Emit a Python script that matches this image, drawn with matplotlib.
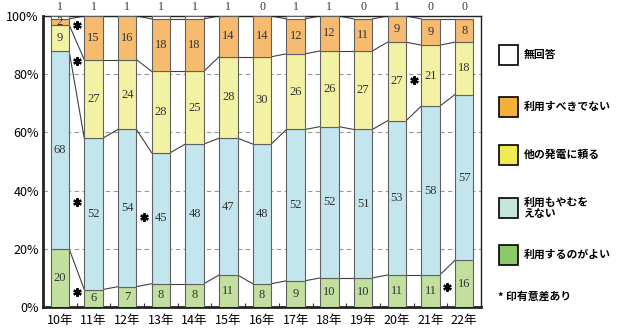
import numpy as np
import matplotlib.pyplot as plt
from matplotlib.patches import Rectangle

# survey years and answer shares (%), bottom to top of each bar
years = ['10年', '11年', '12年', '13年', '14年', '15年', '16年',
         '17年', '18年', '19年', '20年', '21年', '22年']
good = [20, 6, 7, 8, 8, 11, 8, 9, 10, 10, 11, 11, 16]
unavoidable = [68, 52, 54, 45, 48, 47, 48, 52, 52, 51, 53, 58, 57]
other_power = [9, 27, 24, 28, 25, 28, 30, 26, 26, 27, 27, 21, 18]
should_not = [2, 15, 16, 18, 18, 14, 14, 12, 12, 11, 9, 9, 8]
no_answer = [1, 1, 1, 1, 1, 1, 0, 1, 1, 0, 1, 0, 0]

series_names = ['利用するのがよい', '利用もやむを\nえない', '他の発電に頼る',
                '利用すべきでない', '無回答']

# significant-difference marks: (x between bars, y in %)
star_x = [0.5, 0.5, 0.5, 0.5, 2.5, 10.5, 11.5]
star_y = [97, 84.5, 36, 5, 31, 78, 7]

bar_colors = ['#c3df9f', '#c3e6ee', '#f3f2a4', '#f7bb70', '#ffffff']
legend_colors = ['#8dc86a', '#c6e6da', '#eeea50', '#f5b03c', '#ffffff']

JP = ['Noto Sans CJK JP', 'DejaVu Sans']
SERIF = 'Liberation Serif'


def main():
    fig = plt.figure(figsize=(6.17, 3.36), dpi=100)
    ax = fig.add_axes([43 / 617, 29 / 336, 438 / 617, 291 / 336])

    x = np.arange(len(years))
    w = 0.55
    data = [good, unavoidable, other_power, should_not, no_answer]
    bottom = np.zeros(len(years))
    tops = []
    for vals, col in zip(data, bar_colors):
        vals = np.array(vals, dtype=float)
        h = np.minimum(bottom + vals, 100) - bottom
        ax.bar(x, h, w, bottom=bottom, color=col, edgecolor='#606060',
               linewidth=0.8, zorder=3)
        bottom = bottom + vals
        tops.append(np.minimum(bottom, 100))

    # value labels inside segments (no answer goes above the frame)
    lower = np.zeros(len(years))
    for k, vals in enumerate(data[:4]):
        for i, v in enumerate(vals):
            mid = (lower[i] + tops[k][i]) / 2
            ax.text(i, mid, str(v), ha='center', va='center', fontsize=9,
                    family=SERIF, color='#333333', zorder=5)
        lower = tops[k]
    for i, v in enumerate(no_answer):
        ax.text(i, 1.03, str(v), ha='center', va='center', fontsize=8.5,
                family=SERIF, color='#333333',
                transform=ax.get_xaxis_transform())

    # connecting lines between neighbouring bars
    for lev in tops[:4]:
        for i in range(len(years) - 1):
            ax.plot([i + w / 2, i + 1 - w / 2], [lev[i], lev[i + 1]],
                    color='#404040', lw=0.8, zorder=2)

    ax.plot(star_x, star_y, linestyle='none', marker=(6, 2, 0),
            markersize=6, mew=1.6, color='black', zorder=4)

    ax.set_xlim(-0.5, len(years) - 0.5)
    ax.set_ylim(0, 100)
    ax.set_yticks(range(0, 101, 20))
    ax.set_yticklabels([f'{v}%' for v in range(0, 101, 20)], family=JP,
                       fontsize=9)
    ax.set_xticks(x)
    ax.set_xticklabels(years, family=JP, fontsize=9)
    ax.set_xticks(x[:-1] + 0.5, minor=True)
    ax.tick_params(axis='x', which='major', length=0, pad=5)
    ax.tick_params(axis='x', which='minor', direction='in', length=3,
                   width=0.8, color='#333333')
    ax.tick_params(axis='y', length=0, pad=3)
    for v in range(20, 100, 20):
        ax.axhline(v, color='#999999', lw=0.8, ls=(0, (4, 3)), zorder=1)

    ax.spines['left'].set_linewidth(2)
    ax.spines['bottom'].set_linewidth(2)
    ax.spines['top'].set_linewidth(1)
    ax.spines['right'].set_linewidth(1)
    for s in ax.spines.values():
        s.set_color('#222222')

    # legend on the right, top entry first
    ys = [55, 107, 155, 208, 255]
    for name, col, y in zip(series_names[::-1], legend_colors[::-1], ys):
        fig.patches.append(Rectangle((499 / 617, (336 - y - 10) / 336),
                                     19 / 617, 20 / 336, facecolor=col,
                                     edgecolor='black', lw=1.2,
                                     transform=fig.transFigure))
        fig.text(524 / 617, (336 - y) / 336, name, ha='left', va='center',
                 fontsize=7.8, family=JP, weight='bold', linespacing=1.15)
    fig.text(498 / 617, (336 - 296) / 336, '* 印有意差あり', ha='left',
             va='center', fontsize=7.8, family=JP, weight='bold')

    fig.savefig('out.png', dpi=100)


main()
